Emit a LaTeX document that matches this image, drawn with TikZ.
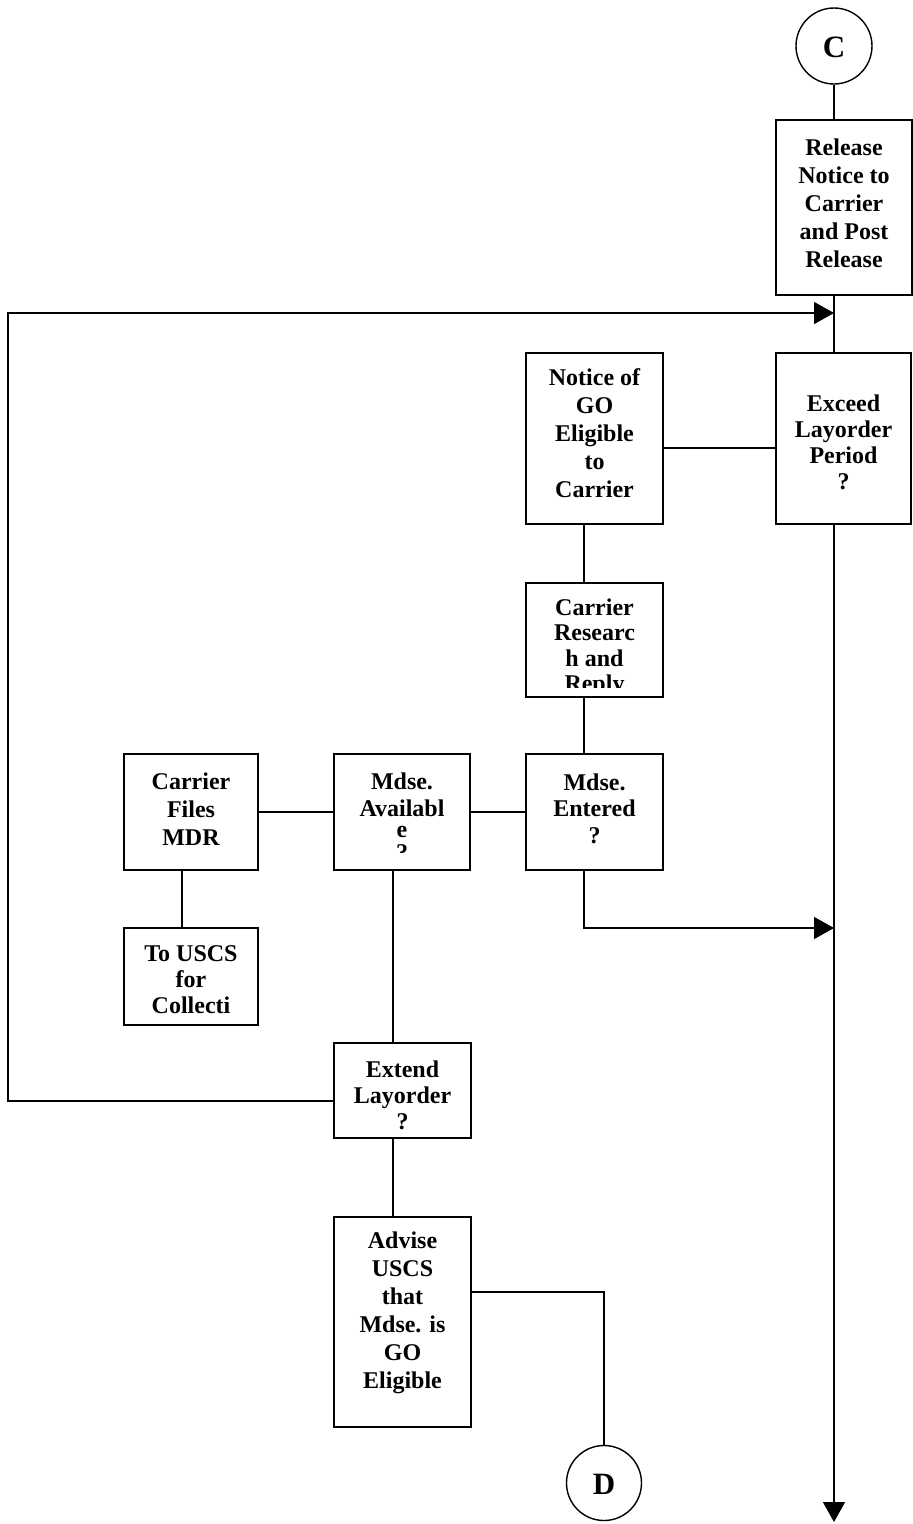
\documentclass[tikz,border=0pt]{standalone}
\usepackage{fontspec}
\setmainfont{Liberation Serif}
\usetikzlibrary{arrows.meta}
\newcommand\boxlines[5]{%
  \foreach \l [count=\i] in {#5}
    \node[txt] (#1-\i) at ({#2},{#3+(\i-1)*#4}) {\l};%
}
\begin{document}
\begin{tikzpicture}[x=1pt,y=-1pt,
  box/.style={draw, rectangle, inner sep=0pt, line width=1.5pt},
  txt/.style={inner sep=0pt, anchor=base, font=\fontsize{24}{28}\selectfont\bfseries},
  bigtxt/.style={inner sep=0pt, anchor=base, font=\fontsize{31}{36}\selectfont\bfseries},
  conn/.style={draw, line width=1.5pt},
  arr/.style={-{Triangle[length=20pt,width=22pt]}},
  circ/.style={draw, circle, inner sep=0pt, line width=1.4pt}]
\useasboundingbox (0,0) rectangle (913,1524);

% circles
\node[circ, minimum size=76pt] (c) at (834,46) {};
\node[circ, minimum size=75pt] (d) at (604,1483) {};
\node[bigtxt] (ct) at (834,57) {C};
\node[bigtxt] (dt) at (604,1494) {D};

% boxes
\node[box, minimum width=136pt, minimum height=175pt] (release)   at (844,207.5) {};
\node[box, minimum width=137pt, minimum height=171pt] (notice)    at (594.5,438.5) {};
\node[box, minimum width=135pt, minimum height=171pt] (exceed)    at (843.5,438.5) {};
\node[box, minimum width=137pt, minimum height=114pt] (research)  at (594.5,640) {};
\node[box, minimum width=137pt, minimum height=116pt] (entered)   at (594.5,812) {};
\node[box, minimum width=136pt, minimum height=116pt] (available) at (402,812) {};
\node[box, minimum width=134pt, minimum height=116pt] (files)     at (191,812) {};
\node[box, minimum width=134pt, minimum height=97pt]  (tousc)     at (191,976.5) {};
\node[box, minimum width=137pt, minimum height=95pt]  (extend)    at (402.5,1090.5) {};
\node[box, minimum width=137pt, minimum height=210pt] (advise)    at (402.5,1322) {};

% texts
\boxlines{releaseT}{844}{155}{28}{Release,Notice to,Carrier,and Post,Release}
\boxlines{noticeT}{594.5}{385}{28}{Notice of,GO,Eligible,to,Carrier}
\begin{scope}[font=\fontsize{23}{26}\selectfont\bfseries]
\boxlines{exceedT}{843.5}{411}{26}{Exceed,Layorder,Period,?}
\end{scope}
\begin{scope}
  \clip (528,585) rectangle (661,687);
  \boxlines{researchT}{594.5}{615}{25.5}{Carrier,Researc,h and,Reply}
\end{scope}
\boxlines{enteredT}{594.5}{790}{26.5}{Mdse.,Entered,?}
\begin{scope}
  \clip (336,756) rectangle (468,852);
  \node[txt] (availT-1) at (402,789) {Mdse.};
  \node[txt] (availT-2) at (402,816) {Availabl};
  \node[txt] (availT-3) at (402,837) {e};
  \node[txt] (availT-4) at (402,860) {?};
\end{scope}
\boxlines{filesT}{191}{789}{28}{Carrier,Files,MDR}
\boxlines{touscT}{191}{961}{26}{To USCS,for,Collecti}
\boxlines{extendT}{402.5}{1077}{26}{Extend,Layorder,?}
\boxlines{adviseT}{402.5}{1248}{28}{Advise,USCS,that,Mdse. is,GO,Eligible}

% helper coordinates
\coordinate (colA) at (584,0);
\coordinate (colB) at (393,0);
\coordinate (colC) at (182,0);
\coordinate (lft) at (8,700);
\coordinate (j1) at (834,313);
\coordinate (j2) at (834,928);
\coordinate (bot) at (834,1522);

% connectors
\draw[conn] (c.south) -- (release.north -| c.south);
\draw[conn] (release.south -| c) -- (exceed.north -| c);
\draw[conn, arr] ([yshift=-10.5pt]extend.west) -| (lft) |- (j1);
\draw[conn] ([yshift=-9.5pt]notice.east) -- ([yshift=-9.5pt]exceed.west);
\draw[conn] (notice.south -| colA) -- (research.north -| colA);
\draw[conn] (research.south -| colA) -- (entered.north -| colA);
\draw[conn, arr] (entered.south -| colA) |- (j2);
\draw[conn, arr] (exceed.south -| c) -- (bot);
\draw[conn] (files.east) -- (available.west);
\draw[conn] (available.east) -- (entered.west);
\draw[conn] (files.south -| colC) -- (tousc.north -| colC);
\draw[conn] (available.south -| colB) -- (extend.north -| colB);
\draw[conn] (extend.south -| colB) -- (advise.north -| colB);
\draw[conn] ([yshift=30pt]advise.east) -| (d.north);
\end{tikzpicture}
\end{document}
